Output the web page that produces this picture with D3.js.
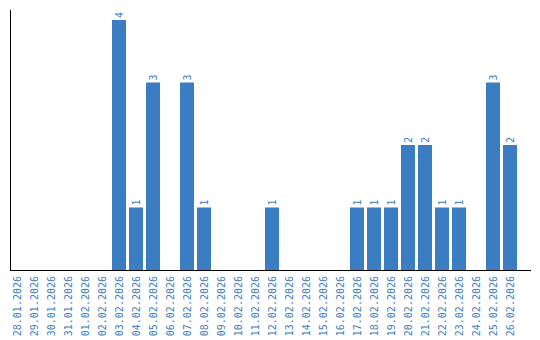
<!DOCTYPE html>
<html>
<head>
<meta charset="utf-8">
<script src="https://cdn.jsdelivr.net/npm/d3@7"></script>
<style>
  body { margin: 0; background: #fff; }
  svg { display: block; }
</style>
</head>
<body>
<div id="chart"></div>
<script>
// Data: one bar per day
var dates = ["28.01.2026", "29.01.2026", "30.01.2026", "31.01.2026", "01.02.2026", "02.02.2026",
    "03.02.2026", "04.02.2026", "05.02.2026", "06.02.2026", "07.02.2026", "08.02.2026",
    "09.02.2026", "10.02.2026", "11.02.2026", "12.02.2026", "13.02.2026", "14.02.2026",
    "15.02.2026", "16.02.2026", "17.02.2026", "18.02.2026", "19.02.2026", "20.02.2026",
    "21.02.2026", "22.02.2026", "23.02.2026", "24.02.2026", "25.02.2026", "26.02.2026"];
var counts = [0, 0, 0, 0, 0, 0,
    4, 1, 3, 0, 3, 1,
    0, 0, 0, 1, 0, 0,
    0, 0, 1, 1, 1, 2,
    2, 1, 1, 0, 3, 2];

var data = dates.map(function (d, i) { return {date: d, value: counts[i]}; });

var width = 540, height = 340;
var blue = "#3b7dc2";
var fontFamily = "'DejaVu Sans Mono', monospace";

var svg = d3.select("#chart")
    .append("svg")
    .attr("width", width)
    .attr("height", height);

// X scale: 17px step, 14px bars
var x = d3.scaleBand()
    .domain(dates)
    .range([10, 517])
    .paddingInner(3 / 17)
    .paddingOuter(0);

var y = d3.scaleLinear()
    .domain([0, 4])
    .range([270, 20]);

// Bars
svg.selectAll(".bar")
    .data(data.filter(d => d.value > 0))
    .join("rect")
    .attr("class", "bar")
    .attr("x", d => x(d.date))
    .attr("y", d => y(d.value))
    .attr("width", x.bandwidth())
    .attr("height", d => y(0) - y(d.value))
    .attr("fill", blue);

// Value labels above bars, rotated
svg.selectAll(".val")
    .data(data.filter(d => d.value > 0))
    .join("text")
    .attr("class", "val")
    .attr("transform", d => `translate(${x(d.date) + x.bandwidth() / 2},${y(d.value) - 2}) rotate(-90)`)
    .attr("dy", "0.35em")
    .attr("text-anchor", "start")
    .attr("font-family", fontFamily)
    .attr("font-size", 10)
    .attr("fill", blue)
    .text(d => d.value);

// Axis lines
svg.append("line")
    .attr("x1", 10.5).attr("x2", 10.5)
    .attr("y1", 10).attr("y2", 270)
    .attr("stroke", "#000");

svg.append("line")
    .attr("x1", 10).attr("x2", 531)
    .attr("y1", 270.5).attr("y2", 270.5)
    .attr("stroke", "#000");

// Date labels, rotated
svg.selectAll(".xlab")
    .data(dates)
    .join("text")
    .attr("class", "xlab")
    .attr("transform", d => `translate(${x(d) + x.bandwidth() / 2},276) rotate(-90)`)
    .attr("dy", "0.35em")
    .attr("text-anchor", "end")
    .attr("font-family", fontFamily)
    .attr("font-size", 10)
    .attr("fill", blue)
    .text(d => d);
</script>
</body>
</html>
